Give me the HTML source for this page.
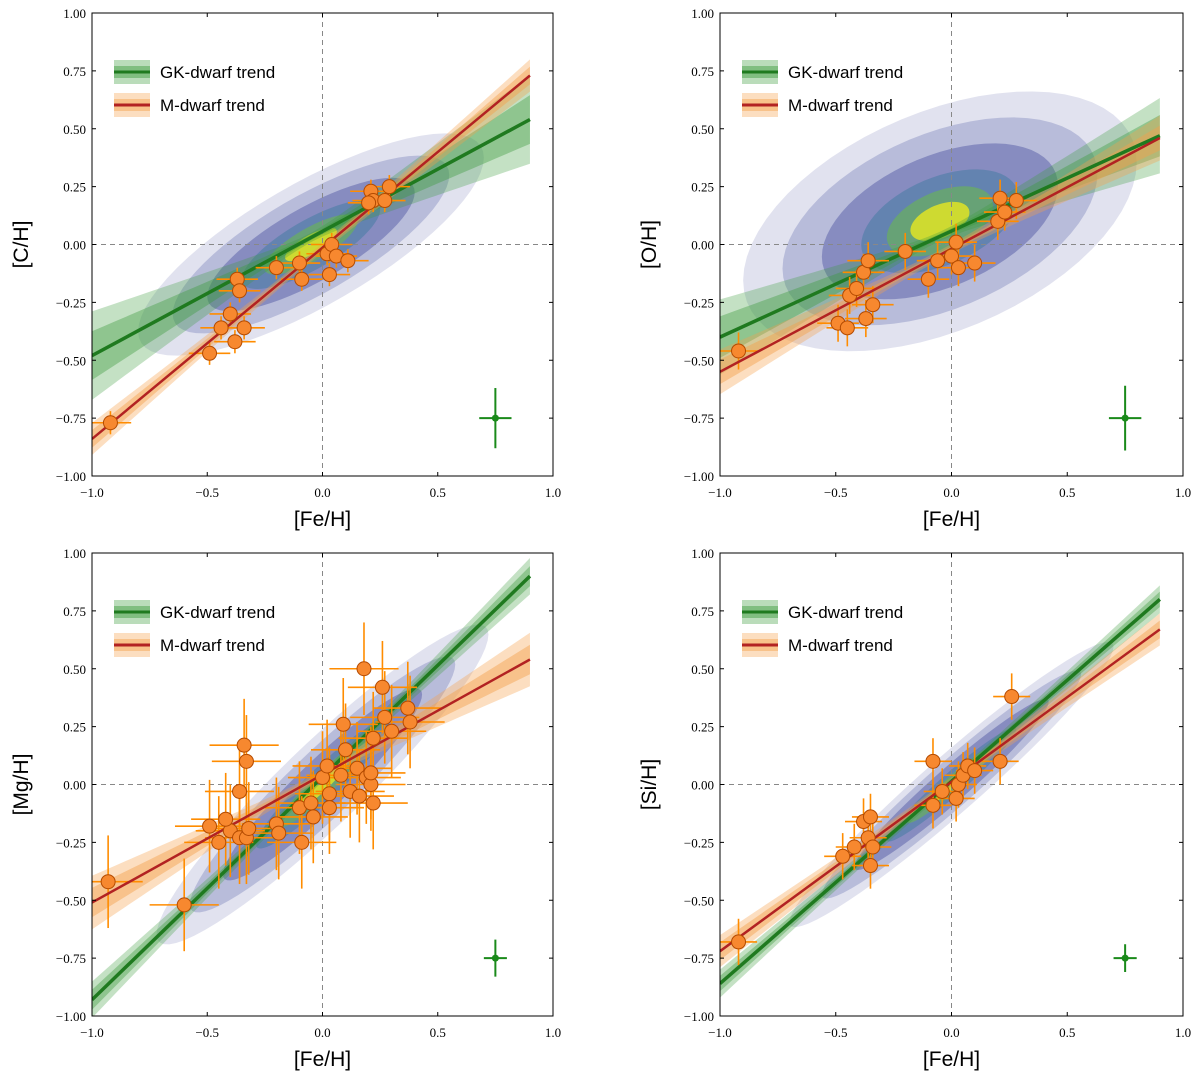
<!DOCTYPE html>
<html><head><meta charset="utf-8">
<style>
body{margin:0;background:#fff;}
svg{display:block;font-family:"Liberation Serif",serif;}
.tick{font-size:13px;fill:#000;}
.lab{font-size:21px;fill:#000;font-family:"Liberation Sans",sans-serif;}
.leg{font-size:17px;fill:#000;font-family:"Liberation Sans",sans-serif;}
</style></head><body>
<svg id="fig" width="1200" height="1077"></svg>
<script>
const xTicks=[-1.0,-0.5,0.0,0.5,1.0];
const xTickLabels=["\u22121.0","\u22120.5","0.0","0.5","1.0"];
const yTicks=[1.0,0.75,0.5,0.25,0.0,-0.25,-0.5,-0.75,-1.0];
const yTickLabels=["1.00","0.75","0.50","0.25","0.00","\u22120.25","\u22120.50","\u22120.75","\u22121.00"];
const panelNames=["C","O","Mg","Si"];
const gkTrend=[[-1,-0.48,0.9,0.54],[-1,-0.40,0.9,0.47],[-1,-0.93,0.9,0.90],[-1,-0.86,0.9,0.80]];
const mTrend=[[-1,-0.84,0.9,0.73],[-1,-0.55,0.9,0.46],[-1,-0.51,0.9,0.54],[-1,-0.72,0.9,0.67]];
const gkBand=[0.2,0.17,0.08,0.06];
const mBand=[0.07,0.1,0.12,0.07];
const clouds=[[-0.05,0.0,0.75,0.3,0.5],[-0.05,0.1,0.85,0.5,0.3],[0,0,0.72,0.24,0.9],[0,0,0.7,0.16,0.85]];
const cX=[[-0.92,-0.49,-0.44,-0.4,-0.38,-0.34,-0.37,-0.36,-0.2,-0.1,-0.09,0.02,0.03,0.04,0.06,0.11,0.21,0.22,0.27,0.29,0.2],
[-0.92,-0.49,-0.45,-0.44,-0.41,-0.38,-0.36,-0.37,-0.34,-0.2,-0.1,-0.06,0.0,0.02,0.03,0.1,0.2,0.21,0.28,0.23],
[-0.93,-0.6,-0.49,-0.45,-0.4,-0.36,-0.36,-0.34,-0.33,-0.33,-0.32,-0.2,-0.19,-0.1,-0.09,-0.05,-0.04,0.0,0.02,0.03,0.03,0.08,0.09,0.1,0.12,0.15,0.16,0.18,0.19,0.22,0.22,0.26,0.27,0.3,0.37,0.38,0.21,0.21,-0.42],
[-0.92,-0.47,-0.42,-0.38,-0.35,-0.36,-0.34,-0.35,-0.08,-0.08,-0.04,0.02,0.03,0.05,0.07,0.1,0.21,0.26]];
const cY=[[-0.77,-0.47,-0.36,-0.3,-0.42,-0.36,-0.15,-0.2,-0.1,-0.08,-0.15,-0.04,-0.13,0.0,-0.05,-0.07,0.23,0.19,0.19,0.25,0.18],
[-0.46,-0.34,-0.36,-0.22,-0.19,-0.12,-0.07,-0.32,-0.26,-0.03,-0.15,-0.07,-0.05,0.01,-0.1,-0.08,0.1,0.2,0.19,0.14],
[-0.42,-0.52,-0.18,-0.25,-0.2,-0.23,-0.03,0.17,0.1,-0.23,-0.19,-0.17,-0.21,-0.1,-0.25,-0.08,-0.14,0.03,0.08,-0.04,-0.1,0.04,0.26,0.15,-0.03,0.07,-0.05,0.5,0.03,-0.08,0.2,0.42,0.29,0.23,0.33,0.27,0.0,0.05,-0.15],
[-0.68,-0.31,-0.27,-0.16,-0.14,-0.23,-0.27,-0.35,0.1,-0.09,-0.03,-0.06,0.0,0.04,0.08,0.06,0.1,0.38]];
const errX=[0.09,0.09,0.15,0.08];
const errY=[0.05,0.08,0.2,0.1];
const typErr=[[0.07,0.13],[0.07,0.14],[0.05,0.08],[0.05,0.06]];
const panelsPos=[[92,553,13,476],[720,1183,13,476],[92,553,553,1016],[720,1183,553,1016]];
const NS="http://www.w3.org/2000/svg";
const svg=document.getElementById('fig');
function mk(tag,attrs,parent){const e=document.createElementNS(NS,tag);for(const k in attrs)e.setAttribute(k,attrs[k]);(parent||svg).appendChild(e);return e;}
panelNames.forEach((nm,i)=>{
 const [x0,x1,y0,y1]=panelsPos[i];
 const sx=v=>x0+(v+1)/2*(x1-x0);
 const sy=v=>y1-(v+1)/2*(y1-y0);
 const g=mk('g',{});
 
 
 const cid='clip'+i;
 const cp=mk('clipPath',{id:cid},g);mk('rect',{x:x0,y:y0,width:x1-x0,height:y1-y0},cp);
 const pl=mk('g',{'clip-path':'url(#'+cid+')'},g);
 const [cx,cy,rx,ry,sl]=clouds[i];
 [[1,'#2a3590',0.14],[0.8,'#2a3590',0.22],[0.6,'#2a3590',0.35],[0.4,'#3f7aa0',0.5],[0.27,'#6ab850',0.6],[0.15,'#e8e820',0.8]].forEach(([f,col,op])=>{
  let pts=[];for(let t=0;t<64;t++){const a=t/64*2*Math.PI;const dx=rx*f*Math.cos(a);pts.push(sx(cx+dx)+','+sy(cy+sl*dx+ry*f*Math.sin(a)));}
  const p=mk('polygon',{points:pts.join(' '),fill:col,opacity:op},pl);
  
 });
 mk('line',{x1:sx(0),x2:sx(0),y1:y0,y2:y1,stroke:'#888','stroke-dasharray':'5,4'},pl);
 mk('line',{x1:x0,x2:x1,y1:sy(0),y2:sy(0),stroke:'#888','stroke-dasharray':'5,4'},pl);
 function band(tr,hw,col,op,name){
  const [a,b,c,d]=tr;const s=(d-b)/(c-a);const f=x=>b+s*(x-a);
  const h=(x,k)=>k*Math.sqrt(0.0004+Math.pow(hw*(x-(-0.05)),2));
  [[1,op],[0.55,op*1.3]].forEach(([k,o])=>{
   let up=[],lo=[];for(let x=a;x<=c+1e-9;x+=0.05){up.push(sx(x)+','+sy(f(x)+h(x,k)));lo.unshift(sx(x)+','+sy(f(x)-h(x,k)));}
   const p=mk('polygon',{points:up.concat(lo).join(' '),fill:col,opacity:o},pl);
   
  });
 }
 band(gkTrend[i],gkBand[i],'#3a9a3a',0.3,'gk-trend');
 band(mTrend[i],mBand[i],'#f5a04a',0.35,'m-trend');
 const gl=mk('line',{x1:sx(gkTrend[i][0]),y1:sy(gkTrend[i][1]),x2:sx(gkTrend[i][2]),y2:sy(gkTrend[i][3]),stroke:'#1f7a1f','stroke-width':3.5},pl);
 
 cX[i].forEach((xv,j)=>{
  const yv=cY[i][j];
  mk('line',{x1:sx(xv-errX[i]),x2:sx(xv+errX[i]),y1:sy(yv),y2:sy(yv),stroke:'#ff8c00','stroke-width':1.6},pl);
  mk('line',{x1:sx(xv),x2:sx(xv),y1:sy(yv-errY[i]),y2:sy(yv+errY[i]),stroke:'#ff8c00','stroke-width':1.6},pl);
 });
 const ml=mk('line',{x1:sx(mTrend[i][0]),y1:sy(mTrend[i][1]),x2:sx(mTrend[i][2]),y2:sy(mTrend[i][3]),stroke:'#b22222','stroke-width':2.5},pl);
 
 cX[i].forEach((xv,j)=>{
  const c=mk('circle',{cx:sx(xv),cy:sy(cY[i][j]),r:7,fill:'#f7882f',stroke:'#b34a00','stroke-width':1},pl);
  
 });
 const [ex,ey]=typErr[i];
 mk('line',{x1:sx(0.75-ex),x2:sx(0.75+ex),y1:sy(-0.75),y2:sy(-0.75),stroke:'#1a8a1a','stroke-width':2},pl);
 mk('line',{x1:sx(0.75),x2:sx(0.75),y1:sy(-0.75-ey),y2:sy(-0.75+ey),stroke:'#1a8a1a','stroke-width':2},pl);
 const te=mk('circle',{cx:sx(0.75),cy:sy(-0.75),r:3.5,fill:'#1a8a1a'},pl);
 
 mk('rect',{x:x0,y:y0,width:x1-x0,height:y1-y0,fill:'none',stroke:'#000','stroke-width':1},g);
 xTicks.forEach((t,k)=>{
  mk('line',{x1:sx(t),x2:sx(t),y1:y1,y2:y1-4,stroke:'#000'},g);mk('line',{x1:sx(t),x2:sx(t),y1:y0,y2:y0+4,stroke:'#000'},g);
  const tx=mk('text',{x:sx(t),y:y1+21,'text-anchor':'middle',class:'tick'},g);tx.textContent=xTickLabels[k];
  
 });
 yTicks.forEach((t,k)=>{
  mk('line',{x1:x0,x2:x0+4,y1:sy(t),y2:sy(t),stroke:'#000'},g);mk('line',{x1:x1,x2:x1-4,y1:sy(t),y2:sy(t),stroke:'#000'},g);
  const ty=mk('text',{x:x0-6,y:sy(t)+5,'text-anchor':'end',class:'tick'},g);ty.textContent=yTickLabels[k];
  
 });
 const xl=mk('text',{x:sx(0),y:y1+50,'text-anchor':'middle',class:'lab'},g);xl.textContent='[Fe/H]';
 
 const yl=mk('text',{x:0,y:0,'text-anchor':'middle',class:'lab',transform:'translate('+(x0-64)+','+sy(0)+') rotate(-90)'},g);yl.textContent='['+nm+'/H]';
 
 const lg=mk('g',{},g);
 [['GK-dwarf trend','#3a9a3a','#1f7a1f',59],['M-dwarf trend','#f5a04a','#b22222',92]].forEach(([txt,bc,lc,dy])=>{
  const e=mk('g',{},lg);
  mk('rect',{x:x0+22,y:y0+dy-12,width:36,height:24,fill:bc,opacity:0.35},e);
  mk('rect',{x:x0+22,y:y0+dy-6,width:36,height:12,fill:bc,opacity:0.45},e);
  mk('line',{x1:x0+22,x2:x0+58,y1:y0+dy,y2:y0+dy,stroke:lc,'stroke-width':3},e);
  const t=mk('text',{x:x0+68,y:y0+dy+6,class:'leg'},e);t.textContent=txt;
 });
});
</script>
</body></html>
